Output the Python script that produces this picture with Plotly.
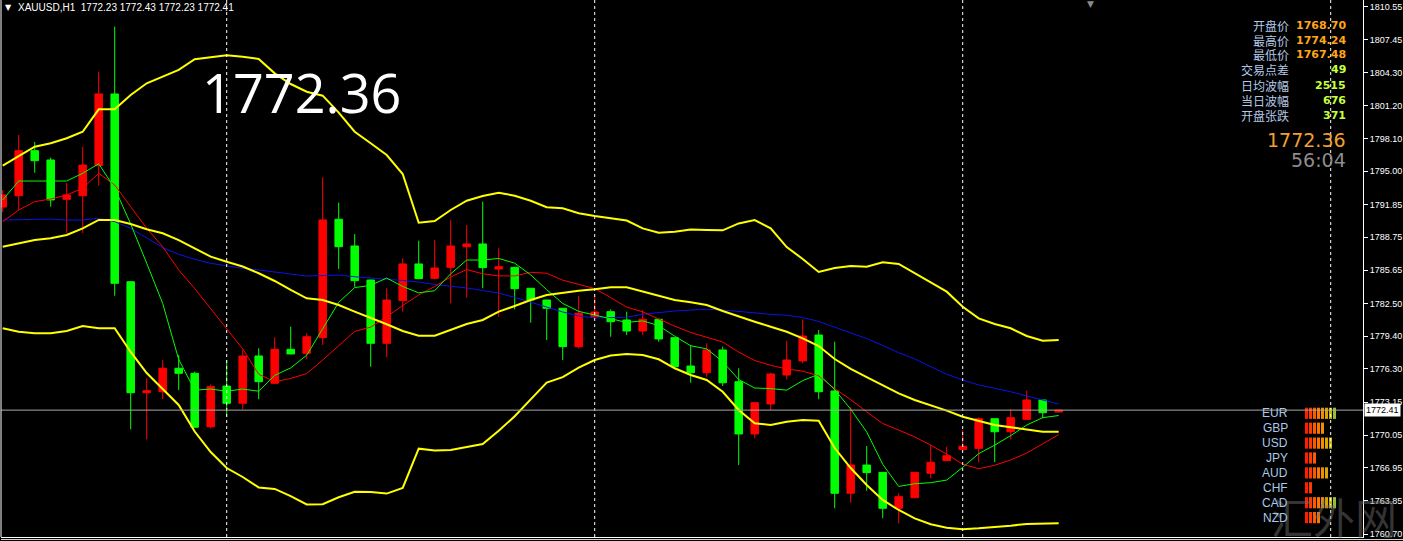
import plotly.graph_objects as go

# ---------------- data ----------------
bars = list(range(67))
open_ = [1791.61, 1792.68, 1796.94, 1796.06, 1792.34, 1792.68, 1795.52, 1802.30, 1784.55, 1774.06,
         1774.15, 1776.37, 1775.89, 1770.84, 1774.69, 1773.06, 1777.53, 1774.95, 1778.16, 1777.78,
         1779.26, 1790.45, 1787.93, 1784.71, 1778.73, 1782.76, 1786.23, 1784.87, 1785.91, 1787.86,
         1788.12, 1785.75, 1785.91, 1783.93, 1782.82, 1782.04, 1778.41, 1781.24, 1781.72, 1780.93,
         1779.89, 1781.00, 1779.26, 1776.58, 1775.95, 1778.10, 1775.10, 1770.16, 1772.99, 1775.73,
         1777.06, 1779.51, 1774.22, 1764.55, 1767.22, 1766.53, 1763.13, 1764.13, 1766.44, 1767.63,
         1768.70, 1768.80, 1771.60, 1770.37, 1771.54, 1773.37, 1772.23]
high = [1793.22, 1798.42, 1797.76, 1796.28, 1793.88, 1797.31, 1804.41, 1808.66, 1784.60, 1775.42,
        1777.15, 1777.62, 1776.05, 1774.85, 1777.15, 1778.10, 1778.26, 1779.30, 1780.30, 1779.67,
        1794.42, 1792.02, 1789.06, 1784.75, 1783.93, 1786.76, 1788.43, 1788.49, 1790.39, 1789.91,
        1792.12, 1787.71, 1785.95, 1783.95, 1782.85, 1782.06, 1783.20, 1783.20, 1781.94, 1781.72,
        1781.88, 1781.03, 1779.28, 1778.57, 1778.73, 1778.41, 1776.37, 1773.13, 1775.95, 1778.95,
        1781.00, 1779.99, 1778.88, 1772.68, 1769.02, 1766.56, 1764.55, 1766.56, 1769.11, 1768.95,
        1770.53, 1771.73, 1771.62, 1772.49, 1774.24, 1773.40, 1772.43]
low = [1791.14, 1791.33, 1794.86, 1791.64, 1789.16, 1789.16, 1793.63, 1783.23, 1770.60, 1769.65,
       1773.46, 1774.31, 1770.75, 1770.69, 1771.79, 1772.49, 1773.44, 1774.90, 1777.70, 1777.22,
       1778.57, 1785.75, 1784.08, 1776.52, 1777.41, 1781.72, 1784.80, 1784.78, 1782.51, 1783.04,
       1783.93, 1781.24, 1781.94, 1780.68, 1779.04, 1777.15, 1778.26, 1781.09, 1779.35, 1779.51,
       1779.51, 1778.88, 1776.37, 1775.00, 1775.57, 1774.69, 1767.22, 1769.75, 1772.42, 1775.33,
       1776.84, 1773.44, 1763.13, 1763.66, 1764.79, 1762.19, 1761.71, 1764.10, 1765.97, 1767.60,
       1768.55, 1767.48, 1767.50, 1769.65, 1771.50, 1771.64, 1772.23]
close = [1792.75, 1796.94, 1795.99, 1792.28, 1792.75, 1795.58, 1802.30, 1784.40, 1774.06, 1774.25,
         1776.37, 1775.89, 1770.79, 1774.63, 1773.06, 1777.53, 1775.10, 1778.16, 1777.72, 1779.35,
         1790.39, 1787.86, 1784.65, 1778.73, 1782.82, 1786.23, 1784.84, 1785.85, 1787.93, 1788.12,
         1785.88, 1785.97, 1783.89, 1782.82, 1782.04, 1778.41, 1781.57, 1781.69, 1780.77, 1779.89,
         1781.00, 1779.14, 1776.52, 1775.95, 1778.10, 1775.00, 1770.16, 1773.11, 1775.83, 1777.15,
         1779.42, 1774.15, 1764.55, 1767.22, 1766.50, 1763.13, 1764.23, 1766.53, 1767.48, 1768.10,
         1769.00, 1771.60, 1770.37, 1771.70, 1773.37, 1772.17, 1772.41]

ma_green = [1792.28, 1794.07, 1794.07, 1794.07, 1794.07, 1794.80, 1795.70, 1793.40, 1790.00, 1786.30,
            1782.50, 1777.20, 1774.30, 1774.40, 1774.20, 1774.40, 1774.20, 1775.70, 1776.40, 1777.60,
            1780.10, 1782.60, 1784.00, 1784.20, 1784.90, 1784.10, 1783.50, 1783.70, 1785.30, 1786.60,
            1786.60, 1786.75, 1786.30, 1785.20, 1783.80, 1782.50, 1781.75, 1781.40, 1781.00, 1780.70,
            1780.85, 1780.40, 1779.40, 1778.50, 1778.20, 1777.00, 1775.30, 1774.50, 1774.45, 1774.30,
            1775.20, 1775.80, 1774.35, 1772.50, 1770.35, 1767.30, 1765.20, 1765.45, 1765.55, 1765.80,
            1767.00, 1768.30, 1769.10, 1770.00, 1771.00, 1771.70, 1771.90]
ma_red = [1790.23, 1791.33, 1792.12, 1792.37, 1792.75, 1793.38, 1794.80, 1793.69, 1791.64, 1789.60,
          1787.86, 1785.66, 1783.90, 1782.00, 1780.13, 1778.20, 1775.80, 1775.10, 1775.40, 1775.87,
          1777.15, 1778.46, 1779.85, 1780.26, 1781.23, 1782.30, 1783.30, 1784.10, 1785.00, 1785.70,
          1785.30, 1785.10, 1785.10, 1785.44, 1785.35, 1784.70, 1784.28, 1783.90, 1783.05, 1782.15,
          1781.70, 1781.00, 1780.35, 1779.75, 1779.30, 1778.85, 1777.90, 1777.10, 1776.65, 1776.30,
          1776.10, 1775.65, 1774.45, 1773.40, 1772.25, 1771.15, 1770.53, 1769.88, 1769.10, 1768.25,
          1767.30, 1766.87, 1767.20, 1767.70, 1768.35, 1769.20, 1770.10]
ma_blue = [1790.38, 1790.41, 1790.48, 1790.48, 1790.38, 1790.38, 1790.55, 1790.23, 1789.60, 1788.66,
           1787.77, 1787.14, 1786.67, 1786.29, 1786.04, 1785.82, 1785.66, 1785.50, 1785.28, 1785.09,
           1785.16, 1785.18, 1785.02, 1784.87, 1784.78, 1784.67, 1784.52, 1784.29, 1784.15, 1783.96,
           1783.72, 1783.48, 1783.06, 1782.63, 1782.16, 1781.69, 1781.31, 1781.12, 1781.12, 1781.19,
           1781.47, 1781.66, 1781.78, 1781.88, 1781.94, 1781.88, 1781.72, 1781.57, 1781.47, 1781.38,
           1781.17, 1780.79, 1780.27, 1779.75, 1779.18, 1778.52, 1777.84, 1777.25, 1776.52, 1775.80,
           1775.26, 1774.79, 1774.47, 1774.15, 1773.75, 1773.37, 1772.99]
bb_upper = [1795.52, 1796.43, 1797.31, 1797.64, 1798.11, 1798.73, 1800.85, 1800.85, 1802.20, 1803.31,
            1803.93, 1804.57, 1805.58, 1805.79, 1805.96, 1805.82, 1805.61, 1804.25, 1803.24, 1802.51,
            1802.14, 1800.53, 1798.73, 1797.64, 1796.53, 1794.73, 1790.13, 1790.29, 1791.33, 1792.21,
            1792.65, 1792.97, 1792.68, 1792.21, 1791.59, 1791.49, 1791.02, 1790.76, 1790.55, 1790.33,
            1789.59, 1789.18, 1789.28, 1789.48, 1789.44, 1789.41, 1790.06, 1790.38, 1789.59, 1787.83,
            1786.70, 1785.47, 1785.85, 1786.04, 1785.97, 1786.39, 1786.23, 1785.35, 1784.55, 1783.61,
            1782.19, 1781.09, 1780.55, 1780.15, 1779.42, 1778.97, 1779.04]
bb_mid = [1787.86, 1788.18, 1788.49, 1788.66, 1788.97, 1789.60, 1790.39, 1790.39, 1790.01, 1789.51,
          1789.13, 1788.49, 1787.71, 1786.92, 1786.44, 1785.99, 1785.35, 1784.62, 1783.77, 1782.98,
          1782.82, 1782.35, 1781.72, 1781.15, 1780.53, 1779.89, 1779.45, 1779.45, 1779.99, 1780.55,
          1780.93, 1781.72, 1782.26, 1782.82, 1783.29, 1783.51, 1783.70, 1783.83, 1784.02, 1784.02,
          1783.61, 1783.20, 1782.82, 1782.60, 1782.35, 1781.78, 1781.24, 1780.77, 1780.30, 1779.82,
          1779.20, 1778.47, 1777.24, 1776.32, 1775.54, 1774.79, 1774.00, 1773.37, 1772.90, 1772.36,
          1771.79, 1771.38, 1771.00, 1770.79, 1770.60, 1770.37, 1770.37]
bb_lower = [1780.15, 1779.82, 1779.67, 1779.67, 1779.89, 1780.36, 1780.15, 1780.15, 1777.91, 1775.92,
            1774.41, 1772.90, 1770.39, 1768.45, 1766.94, 1766.09, 1765.10, 1764.96, 1764.29, 1763.49,
            1763.51, 1764.17, 1764.70, 1764.67, 1764.52, 1765.05, 1768.77, 1768.60, 1768.64, 1768.90,
            1769.21, 1770.47, 1771.83, 1773.43, 1775.01, 1775.53, 1776.42, 1777.15, 1777.58, 1777.72,
            1777.62, 1777.22, 1776.37, 1775.73, 1775.26, 1774.15, 1772.42, 1771.17, 1771.00, 1771.32,
            1771.48, 1771.41, 1768.83, 1766.94, 1765.33, 1763.92, 1762.97, 1762.18, 1761.62, 1761.30,
            1761.15, 1761.24, 1761.33, 1761.49, 1761.65, 1761.71, 1761.71]

y_tickvals = [1810.55, 1807.45, 1804.30, 1801.20, 1798.10, 1795.00, 1791.85, 1788.75, 1785.65,
              1782.50, 1779.40, 1776.30, 1773.15, 1770.05, 1766.95, 1763.85, 1760.70]
y_ticktext = ["1810.55", "1807.45", "1804.30", "1801.20", "1798.10", "1795.00", "1791.85", "1788.75",
              "1785.65", "1782.50", "1779.40", "1776.30", "1773.15", "1770.05", "1766.95", "1763.85",
              "1760.70"]

day_starts = [14, 37, 60, 83]
last_price = 1772.41
title_text = "XAUUSD,H1\u00a0\u00a01772.23 1772.43 1772.23 1772.41"
big_price = "1772.36"
countdown = "56:04"
info_labels = ["开盘价", "最高价", "最低价", "交易点差", "日均波幅", "当日波幅", "开盘张跌"]
info_values = ["1768.70", "1774.24", "1767.48", "49", "2515", "676", "371"]
currencies = ["EUR", "GBP", "USD", "JPY", "AUD", "CHF", "CAD", "NZD"]
strength = [8, 5, 7, 3, 6, 2, 8, 4]
strength_palette = ["#ff1e00", "#ff3a00", "#ff5800", "#ff7400", "#f08e00", "#dca400", "#c4b400", "#96c030"]

# ---------------- layout geometry ----------------
W, H = 1403, 541
ML, MR, MT, MB = 1, 40, 0, 4
PW, PH = W - ML - MR, H - MT - MB


def px_x(x):
    return (x - ML) / PW


def px_y(y):
    return 1 - (y - MT) / PH


fig = go.Figure()

fig.add_trace(go.Candlestick(
    x=bars, open=open_, high=high, low=low, close=close,
    increasing=dict(line=dict(color="#ff0000", width=1), fillcolor="#ff0000"),
    decreasing=dict(line=dict(color="#00ff00", width=1), fillcolor="#00ff00"),
    whiskerwidth=0, hoverinfo="skip", showlegend=False,
))

for vals, col, w in [(ma_blue, "#0a14e6", 1), (ma_red, "#ff0000", 1), (ma_green, "#00ff00", 1),
                     (bb_upper, "#ffff00", 2), (bb_mid, "#ffff00", 2), (bb_lower, "#ffff00", 2)]:
    fig.add_trace(go.Scatter(x=bars, y=vals, mode="lines", line=dict(color=col, width=w),
                             hoverinfo="skip", showlegend=False))

# currency strength bars
cx, cy, cc = [], [], []
for cur, s in zip(currencies, strength):
    for n in range(1, s + 1):
        cx.append(n)
        cy.append(cur)
        cc.append(strength_palette[n - 1])
fig.add_trace(go.Scatter(
    x=cx, y=cy, mode="markers", xaxis="x2", yaxis="y2",
    marker=dict(symbol="line-ns", size=8, line=dict(width=3, color=cc)),
    hoverinfo="skip", showlegend=False,
))

shapes = []
for d in day_starts:
    shapes.append(dict(type="line", xref="x", yref="paper", x0=d, x1=d, y0=0, y1=1,
                       line=dict(color="#ffffff", width=1, dash="3px,3px"), layer="above"))
shapes.append(dict(type="line", xref="paper", yref="y", x0=0, x1=1, y0=last_price, y1=last_price,
                   line=dict(color="#a8a8a8", width=1), layer="above"))
shapes.append(dict(type="line", xref="paper", yref="paper", x0=0, x1=0, y0=0, y1=1,
                   line=dict(color="#ffffff", width=1)))
shapes.append(dict(type="line", xref="paper", yref="paper", x0=0, x1=px_x(W), y0=px_y(539.5), y1=px_y(539.5),
                   line=dict(color="#d0d0d0", width=1)))

ann = []
# watermark (drawn first so other texts sit on top)
ann.append(dict(xref="paper", yref="paper", x=px_x(1334), y=px_y(515), text="汇外网", showarrow=False,
                xanchor="center", yanchor="middle",
                font=dict(family="Noto Sans CJK SC", size=42, color="rgba(120,120,120,0.45)")))
ann.append(dict(xref="paper", yref="paper", x=px_x(8.5), y=px_y(7), text="▼", showarrow=False,
                xanchor="center", yanchor="middle", font=dict(family="DejaVu Sans", size=8, color="#ffffff")))
ann.append(dict(xref="paper", yref="paper", x=px_x(16), y=px_y(7.5), text=title_text, showarrow=False,
                xanchor="left", yanchor="middle", font=dict(family="Liberation Sans", size=10, color="#ffffff")))
ann.append(dict(xref="paper", yref="paper", x=px_x(1090), y=px_y(4), text="▼", showarrow=False,
                xanchor="center", yanchor="middle", font=dict(family="DejaVu Sans", size=9, color="#8a8a8a")))
ann.append(dict(xref="paper", yref="paper", x=px_x(200), y=px_y(92), text=big_price, showarrow=False,
                xanchor="left", yanchor="middle", font=dict(family="Open Sans", size=54, color="#ffffff")))
# info panel
for k, (lab, val) in enumerate(zip(info_labels, info_values)):
    yy = 25 + 15 * k
    ann.append(dict(xref="paper", yref="paper", x=px_x(1291), y=px_y(yy), text=lab, showarrow=False,
                    xanchor="right", yanchor="middle",
                    font=dict(family="Noto Sans CJK SC", size=12, color="#b4c8e6")))
    ann.append(dict(xref="paper", yref="paper", x=px_x(1348), y=px_y(yy), text="<b>" + val + "</b>",
                    showarrow=False, xanchor="right", yanchor="middle",
                    font=dict(family="DejaVu Sans", size=11, color="#ffa41c" if k < 3 else "#c8ff3c")))
ann.append(dict(xref="paper", yref="paper", x=px_x(1348), y=px_y(140), text=big_price, showarrow=False,
                xanchor="right", yanchor="middle", font=dict(family="DejaVu Sans", size=19, color="#f0a030")))
ann.append(dict(xref="paper", yref="paper", x=px_x(1348), y=px_y(159.5), text=countdown, showarrow=False,
                xanchor="right", yanchor="middle", font=dict(family="DejaVu Sans", size=19, color="#8c8c8c")))
# currency labels
for cur in currencies:
    ann.append(dict(xref="x2", yref="y2", x=-3.1, y=cur, text=cur, showarrow=False,
                    xanchor="right", yanchor="middle",
                    font=dict(family="Liberation Sans", size=12, color="#a8c8e8")))
# price box
ann.append(dict(xref="paper", yref="y", x=1, y=last_price, xshift=1, text=f"{last_price:.2f}",
                showarrow=False, xanchor="left", yanchor="middle", bgcolor="#ffffff",
                borderpad=1, font=dict(family="Liberation Sans", size=9, color="#000000")))

fig.update_layout(
    width=W, height=H,
    margin=dict(l=ML, r=MR, t=MT, b=MB, pad=0),
    paper_bgcolor="#000000", plot_bgcolor="#000000",
    boxgap=0.33,
    showlegend=False,
    xaxis=dict(range=[-0.10625, 85.01875], showgrid=False, zeroline=False, showticklabels=False,
               showline=True, linecolor="#ffffff", linewidth=1, rangeslider=dict(visible=False),
               fixedrange=True),
    yaxis=dict(range=[1760.417, 1811.183], side="right", showgrid=False, zeroline=False,
               tickvals=y_tickvals, ticktext=y_ticktext, ticks="outside", ticklen=4, tickcolor="#ffffff",
               showline=True, linecolor="#ffffff", linewidth=1,
               tickfont=dict(family="Liberation Sans", size=9, color="#ffffff"), fixedrange=True),
    xaxis2=dict(overlaying="x", range=[-325.375, 15.125], visible=False, fixedrange=True),
    yaxis2=dict(overlaying="y", type="category", categoryarray=currencies, categoryorder="array",
                range=[8.302, -27.738], visible=False, fixedrange=True),
    shapes=shapes, annotations=ann,
)

fig.write_html("out.html", config={"displayModeBar": False},
               post_script="document.body.style.margin='0';document.body.style.overflow='hidden';")
